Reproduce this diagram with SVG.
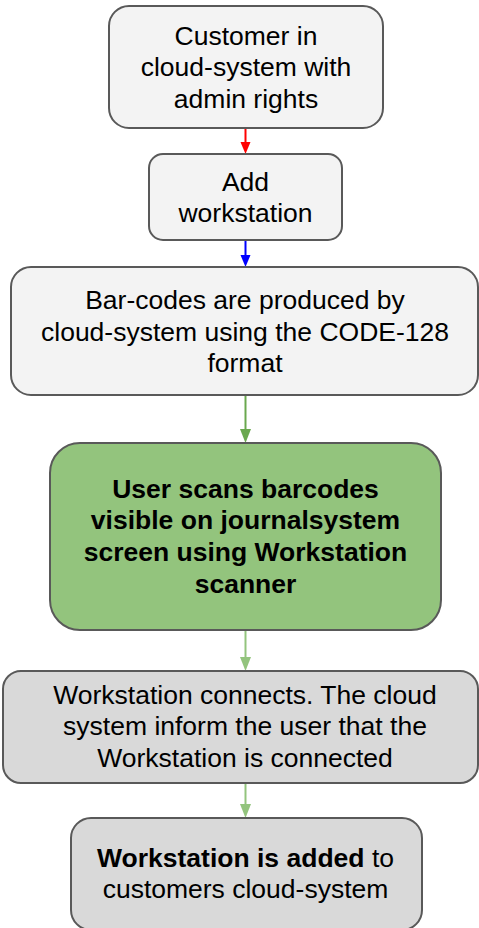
<svg xmlns="http://www.w3.org/2000/svg" width="479" height="928" viewBox="0 0 479 928">
  <defs>
    <style>
      .box { stroke: #595959; stroke-width: 2; }
      .light { fill: #f3f3f3; }
      .mid { fill: #d9d9d9; }
      .green { fill: #93c47d; }
      text { font-family: "Liberation Sans", Arial, sans-serif; font-size: 26.5px; fill: #000; text-anchor: middle; }
      .b { font-weight: bold; }
      .edge { fill: none; stroke-width: 2; }
    </style>
  </defs>

  <!-- connectors: shaft plus filled arrowhead -->
  <g id="connectors">
    <line class="edge" x1="245.5" y1="129" x2="245.5" y2="143" stroke="#ff0000"/>
    <path d="M240.5,142 L250.5,142 L245.5,154 Z" fill="#ff0000"/>
    <line class="edge" x1="245.5" y1="240" x2="245.5" y2="256" stroke="#0000ff"/>
    <path d="M240.5,255 L250.5,255 L245.5,267 Z" fill="#0000ff"/>
    <line class="edge" x1="245.5" y1="395" x2="245.5" y2="431" stroke="#6aa84f"/>
    <path d="M240,429 L251,429 L245.5,443 Z" fill="#6aa84f"/>
    <line class="edge" x1="245.5" y1="631" x2="245.5" y2="659" stroke="#93c47d"/>
    <path d="M240,657 L251,657 L245.5,671 Z" fill="#93c47d"/>
    <line class="edge" x1="245.5" y1="783" x2="245.5" y2="806" stroke="#93c47d"/>
    <path d="M240,804 L251,804 L245.5,818 Z" fill="#93c47d"/>
  </g>

  <g id="node-customer">
    <rect class="box light" x="109" y="6" width="274" height="122" rx="20" ry="20"/>
    <text x="246" y="45">Customer in</text>
    <text x="246" y="76">cloud-system with</text>
    <text x="246" y="108">admin rights</text>
  </g>

  <g id="node-add">
    <rect class="box light" x="149" y="154" width="193" height="86" rx="14" ry="14"/>
    <text x="245.5" y="191">Add</text>
    <text x="245.5" y="222">workstation</text>
  </g>

  <g id="node-barcodes">
    <rect class="box light" x="11" y="267" width="467" height="128" rx="20" ry="20"/>
    <text x="245" y="309">Bar-codes are produced by</text>
    <text x="245" y="341">cloud-system using the CODE-128</text>
    <text x="245" y="372">format</text>
  </g>

  <g id="node-scan">
    <rect class="box green" x="50" y="443" width="391" height="187" rx="30" ry="30"/>
    <text class="b" x="245.5" y="498">User scans barcodes</text>
    <text class="b" x="245.5" y="529">visible on journalsystem</text>
    <text class="b" x="245.5" y="561">screen using Workstation</text>
    <text class="b" x="245.5" y="593">scanner</text>
  </g>

  <g id="node-connects">
    <rect class="box mid" x="3" y="671" width="475" height="112" rx="18" ry="18"/>
    <text x="245" y="704">Workstation connects. The cloud</text>
    <text x="245" y="735">system inform the user that the</text>
    <text x="245" y="767">Workstation is connected</text>
  </g>

  <g id="node-added">
    <rect class="box mid" x="71" y="818" width="351" height="112" rx="20" ry="20"/>
    <text x="245.5" y="867"><tspan class="b">Workstation is added</tspan> to</text>
    <text x="245.5" y="898">customers cloud-system</text>
  </g>
</svg>
